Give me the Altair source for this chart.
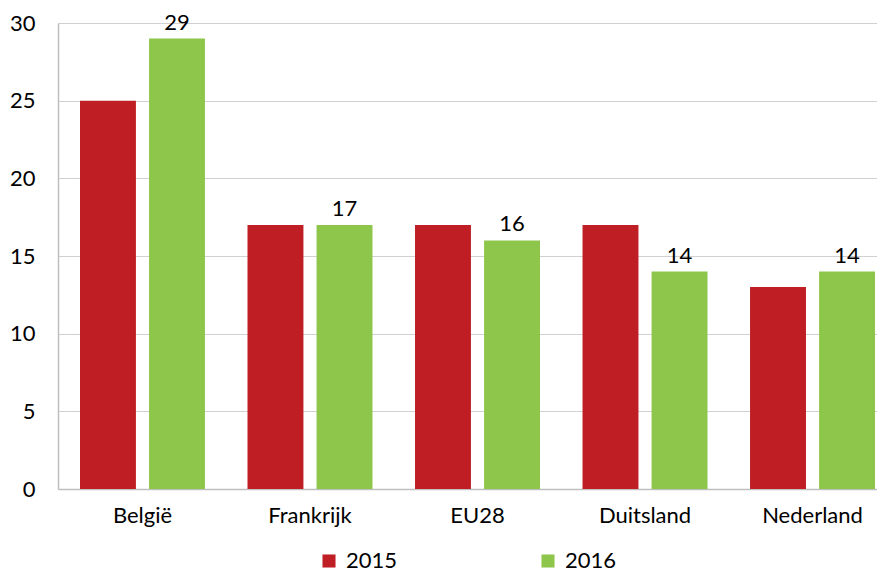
import altair as alt
import pandas as pd

countries = ["België", "Frankrijk", "EU28", "Duitsland", "Nederland"]
years = ["2015", "2016"]
values_2015 = [25, 17, 17, 17, 13]
values_2016 = [29, 17, 16, 14, 14]
colors = ["#BE1E24", "#8DC64B"]

rows = []
for c, v in zip(countries, values_2015):
    rows.append({"land": c, "jaar": "2015", "waarde": v})
for c, v in zip(countries, values_2016):
    rows.append({"land": c, "jaar": "2016", "waarde": v})
df = pd.DataFrame(rows)

FONT = "Lato"
FS = 22
W = 819

x = alt.X("land:N", sort=countries, title=None,
          scale=alt.Scale(paddingInner=0.254, paddingOuter=0.0716, align=0.917),
          axis=alt.Axis(labelAngle=0, ticks=False, labelPadding=16,
                        labelFontSize=FS, labelColor="#000000", labelFont=FONT,
                        domainColor="#BFBFBF", domainWidth=1.5))
xoff = alt.XOffset("jaar:N", scale=alt.Scale(domain=years, paddingInner=0.19, paddingOuter=0))
y = alt.Y("waarde:Q", title=None,
          scale=alt.Scale(domain=[0, 30], nice=False),
          axis=alt.Axis(values=[0, 5, 10, 15, 20, 25, 30], ticks=False, labelPadding=23,
                        labelFontSize=FS, labelColor="#000000", labelFont=FONT,
                        gridColor="#D0D0D0", gridWidth=1.2,
                        domainColor="#BFBFBF", domainWidth=1.5,
                        minExtent=50, maxExtent=50))

bars = alt.Chart(df).mark_bar().encode(
    x=x, xOffset=xoff, y=y,
    color=alt.Color("jaar:N", scale=alt.Scale(domain=years, range=colors),
                    legend=alt.Legend(title=None, orient="none", legendX=260, legendY=527,
                                      direction="horizontal", symbolType="square",
                                      symbolSize=170, symbolStrokeWidth=0,
                                      labelFontSize=FS, labelFont=FONT, labelColor="#000000",
                                      columnPadding=139, labelOffset=6)),
)

labels = alt.Chart(df).transform_filter(alt.datum.jaar == "2016").mark_text(
    baseline="bottom", dy=-4, fontSize=FS, font=FONT, color="#000000"
).encode(x=x, xOffset=xoff, y=y, text=alt.Text("waarde:Q"))

chart = alt.layer(bars, labels).properties(
    width=W, height=466,
    padding={"left": 0, "top": 3, "right": 0, "bottom": 0},
).configure_view(stroke=None)

chart.save("out.html", embed_options={"renderer": "svg", "actions": False})
